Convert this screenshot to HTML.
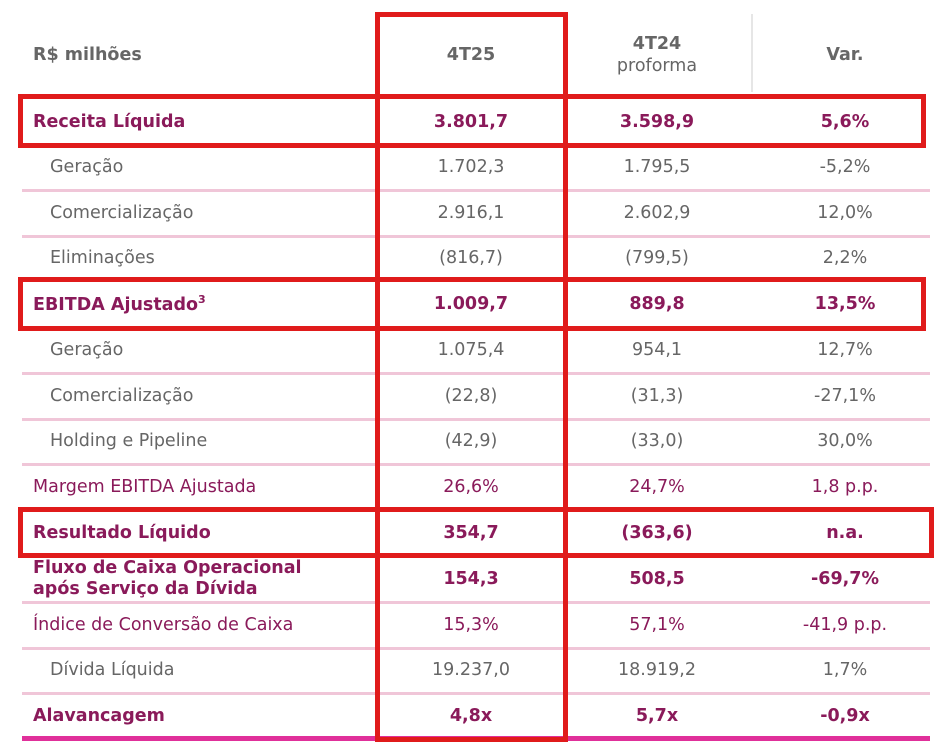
<!DOCTYPE html>
<html><head><meta charset="utf-8"><style>
body{margin:0;width:935px;height:754px;background:#fff;position:relative;overflow:hidden;font-family:"DejaVu Sans","Liberation Sans",sans-serif;font-size:17.5px;}
.t{position:absolute;white-space:nowrap;transform:translateY(-50%);}
.c{transform:translate(-50%,-50%);text-align:center;}
.g{color:#666;}
.p{color:#8a1a5a;}
.b{font-weight:bold;}
.l{position:absolute;left:22px;width:908px;height:3px;background:#f0c6d8;}
.box{position:absolute;border:5px solid #e01b1b;box-sizing:border-box;}
</style></head><body>
<div style="position:absolute;left:751px;top:14px;width:2px;height:78px;background:#e6e6e6"></div>
<div class="l" style="top:189px"></div><div class="l" style="top:235px"></div>
<div class="l" style="top:372px"></div><div class="l" style="top:418px"></div><div class="l" style="top:463px"></div>
<div class="l" style="top:601px"></div><div class="l" style="top:647px"></div><div class="l" style="top:692px"></div>
<div style="position:absolute;left:22px;top:736px;width:908px;height:5px;background:#e0309a"></div>

<div class="t g b" style="left:33px;top:55px">R$ milhões</div>
<div class="t c g b" style="left:471px;top:55px">4T25</div>
<div class="t c g b" style="left:657px;top:44px">4T24</div>
<div class="t c g" style="left:657px;top:66px">proforma</div>
<div class="t c g b" style="left:845px;top:55px">Var.</div>

<div class="t p b" style="left:33px;top:122px">Receita Líquida</div><div class="t c p b" style="left:471px;top:122px">3.801,7</div><div class="t c p b" style="left:657px;top:122px">3.598,9</div><div class="t c p b" style="left:845px;top:122px">5,6%</div>
<div class="t g" style="left:50px;top:167px">Geração</div><div class="t c g" style="left:471px;top:167px">1.702,3</div><div class="t c g" style="left:657px;top:167px">1.795,5</div><div class="t c g" style="left:845px;top:167px">-5,2%</div>
<div class="t g" style="left:50px;top:213px">Comercialização</div><div class="t c g" style="left:471px;top:213px">2.916,1</div><div class="t c g" style="left:657px;top:213px">2.602,9</div><div class="t c g" style="left:845px;top:213px">12,0%</div>
<div class="t g" style="left:50px;top:258px">Eliminações</div><div class="t c g" style="left:471px;top:258px">(816,7)</div><div class="t c g" style="left:657px;top:258px">(799,5)</div><div class="t c g" style="left:845px;top:258px">2,2%</div>
<div class="t p b" style="left:33px;top:304px">EBITDA Ajustado<sup style="font-size:11px">3</sup></div><div class="t c p b" style="left:471px;top:304px">1.009,7</div><div class="t c p b" style="left:657px;top:304px">889,8</div><div class="t c p b" style="left:845px;top:304px">13,5%</div>
<div class="t g" style="left:50px;top:350px">Geração</div><div class="t c g" style="left:471px;top:350px">1.075,4</div><div class="t c g" style="left:657px;top:350px">954,1</div><div class="t c g" style="left:845px;top:350px">12,7%</div>
<div class="t g" style="left:50px;top:396px">Comercialização</div><div class="t c g" style="left:471px;top:396px">(22,8)</div><div class="t c g" style="left:657px;top:396px">(31,3)</div><div class="t c g" style="left:845px;top:396px">-27,1%</div>
<div class="t g" style="left:50px;top:441px">Holding e Pipeline</div><div class="t c g" style="left:471px;top:441px">(42,9)</div><div class="t c g" style="left:657px;top:441px">(33,0)</div><div class="t c g" style="left:845px;top:441px">30,0%</div>
<div class="t p" style="left:33px;top:487px">Margem EBITDA Ajustada</div><div class="t c p" style="left:471px;top:487px">26,6%</div><div class="t c p" style="left:657px;top:487px">24,7%</div><div class="t c p" style="left:845px;top:487px">1,8 p.p.</div>
<div class="t p b" style="left:33px;top:533px">Resultado Líquido</div><div class="t c p b" style="left:471px;top:533px">354,7</div><div class="t c p b" style="left:657px;top:533px">(363,6)</div><div class="t c p b" style="left:845px;top:533px">n.a.</div>
<div class="t p b" style="left:33px;top:579px;line-height:21px">Fluxo de Caixa Operacional<br>após Serviço da Dívida</div><div class="t c p b" style="left:471px;top:579px">154,3</div><div class="t c p b" style="left:657px;top:579px">508,5</div><div class="t c p b" style="left:845px;top:579px">-69,7%</div>
<div class="t p" style="left:33px;top:625px">Índice de Conversão de Caixa</div><div class="t c p" style="left:471px;top:625px">15,3%</div><div class="t c p" style="left:657px;top:625px">57,1%</div><div class="t c p" style="left:845px;top:625px">-41,9 p.p.</div>
<div class="t g" style="left:50px;top:670px">Dívida Líquida</div><div class="t c g" style="left:471px;top:670px">19.237,0</div><div class="t c g" style="left:657px;top:670px">18.919,2</div><div class="t c g" style="left:845px;top:670px">1,7%</div>
<div class="t p b" style="left:33px;top:716px">Alavancagem</div><div class="t c p b" style="left:471px;top:716px">4,8x</div><div class="t c p b" style="left:657px;top:716px">5,7x</div><div class="t c p b" style="left:845px;top:716px">-0,9x</div>

<div class="box" style="left:375px;top:12px;width:193px;height:730px"></div>
<div class="box" style="left:18px;top:94px;width:908px;height:54px"></div>
<div class="box" style="left:18px;top:277px;width:908px;height:54px"></div>
<div class="box" style="left:18px;top:507px;width:916px;height:51px"></div>
</body></html>
